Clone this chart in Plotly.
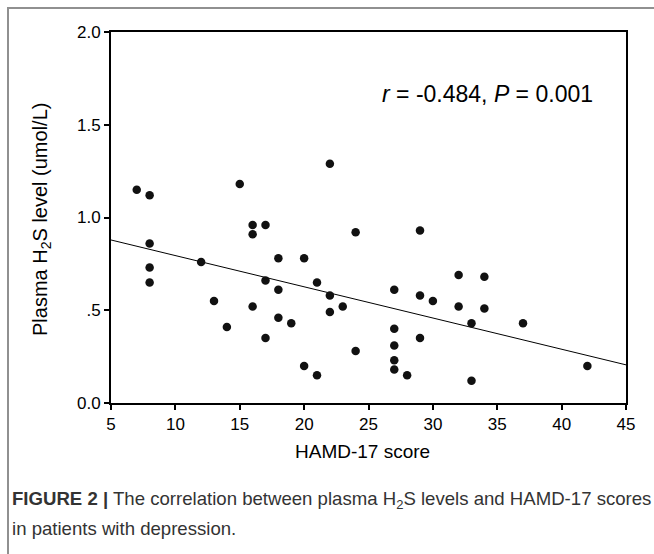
import plotly.graph_objects as go

# Data (HAMD-17 score, plasma H2S umol/L)
hamd = [7, 8, 8, 8, 8, 12, 13, 14, 15, 16, 16, 16, 17, 17, 17, 18, 18, 18,
        19, 20, 20, 21, 21, 22, 22, 22, 23, 24, 24, 27, 27, 27, 27, 27,
        28, 29, 29, 29, 30, 32, 32, 33, 33, 34, 34, 37, 42]
h2s = [1.15, 1.12, 0.86, 0.73, 0.65, 0.76, 0.55, 0.41, 1.18, 0.96, 0.91, 0.52,
       0.96, 0.66, 0.35, 0.78, 0.61, 0.46,
       0.43, 0.78, 0.20, 0.65, 0.15, 1.29, 0.58, 0.49, 0.52, 0.92, 0.28,
       0.61, 0.40, 0.31, 0.23, 0.18,
       0.15, 0.93, 0.58, 0.35, 0.55, 0.69, 0.52, 0.43, 0.12, 0.68, 0.51, 0.43, 0.20]

fit_x = [5, 45]
fit_intercept = 0.963
fit_slope = -0.01683
fit_y = [fit_intercept + fit_slope * v for v in fit_x]

x_ticks = [5, 10, 15, 20, 25, 30, 35, 40, 45]
y_ticks = [0.0, 0.5, 1.0, 1.5, 2.0]
y_ticklabels = ["0.0", ".5", "1.0", "1.5", "2.0"]

FONT = "Liberation Sans, Arial, sans-serif"

fig = go.Figure()
fig.add_trace(go.Scatter(x=fit_x, y=fit_y, mode="lines",
                         line=dict(color="black", width=1), hoverinfo="skip",
                         showlegend=False))
fig.add_trace(go.Scatter(x=hamd, y=h2s, mode="markers",
                         marker=dict(color="#111111", size=8.5),
                         showlegend=False, cliponaxis=False))

W, H = 654, 554
L, R, T, B = 111, 28, 32, 151
pw, ph = W - L - R, H - T - B

def px(x):
    return (x - L) / pw

def py(y):
    return (H - B - y) / ph

fig.update_layout(
    width=W, height=H,
    margin=dict(l=L, r=R, t=T, b=B),
    paper_bgcolor="white", plot_bgcolor="white",
    font=dict(family=FONT, color="black", size=17),
    xaxis=dict(range=[5, 45], tickvals=x_ticks, ticks="outside", ticklen=5,
               tickwidth=1.5, tickcolor="black", showline=True, linewidth=2,
               linecolor="black", mirror=True, showgrid=False, zeroline=False,
               tickfont=dict(size=17, family=FONT)),
    yaxis=dict(range=[0, 2], tickvals=y_ticks, ticktext=y_ticklabels,
               ticks="outside", ticklen=5, tickwidth=1.5, tickcolor="black",
               showline=True, linewidth=2, linecolor="black", mirror=True,
               showgrid=False, zeroline=False,
               tickfont=dict(size=17, family=FONT)),
)

annotations = [
    dict(x=px(487), y=py(94), xref="paper", yref="paper",
         text="<i>r</i> = -0.484, <i>P</i> = 0.001", showarrow=False,
         font=dict(size=23, family=FONT, color="black"),
         xanchor="center", yanchor="middle"),
    dict(x=px(362), y=py(451), xref="paper", yref="paper",
         text="HAMD-17 score", showarrow=False,
         font=dict(size=19, family=FONT, color="black"),
         xanchor="center", yanchor="middle"),
    dict(x=px(42), y=py(220), xref="paper", yref="paper",
         text="Plasma H<sub>2</sub>S level (umol/L)", showarrow=False,
         textangle=-90, font=dict(size=20, family=FONT, color="black"),
         xanchor="center", yanchor="middle"),
    dict(x=px(10), y=py(500), xref="paper", yref="paper",
         text="<b>FIGURE 2 |</b> The correlation between plasma H<sub>2</sub>S levels and HAMD-17 scores",
         showarrow=False, font=dict(size=18.6, family=FONT, color="#333333"),
         xanchor="left", yanchor="middle"),
    dict(x=px(10), y=py(528), xref="paper", yref="paper",
         text="in patients with depression.",
         showarrow=False, font=dict(size=18.6, family=FONT, color="#333333"),
         xanchor="left", yanchor="middle"),
]
fig.update_layout(annotations=annotations)

fig.add_shape(type="rect", xref="paper", yref="paper",
              x0=px(8), x1=px(680), y0=py(600), y1=py(8),
              line=dict(color="#909090", width=2), fillcolor="rgba(0,0,0,0)",
              layer="below")

fig.write_html(
    "out.html",
    config={"displayModeBar": False},
    post_script="document.body.style.margin='0';document.documentElement.style.overflow='hidden';",
)
